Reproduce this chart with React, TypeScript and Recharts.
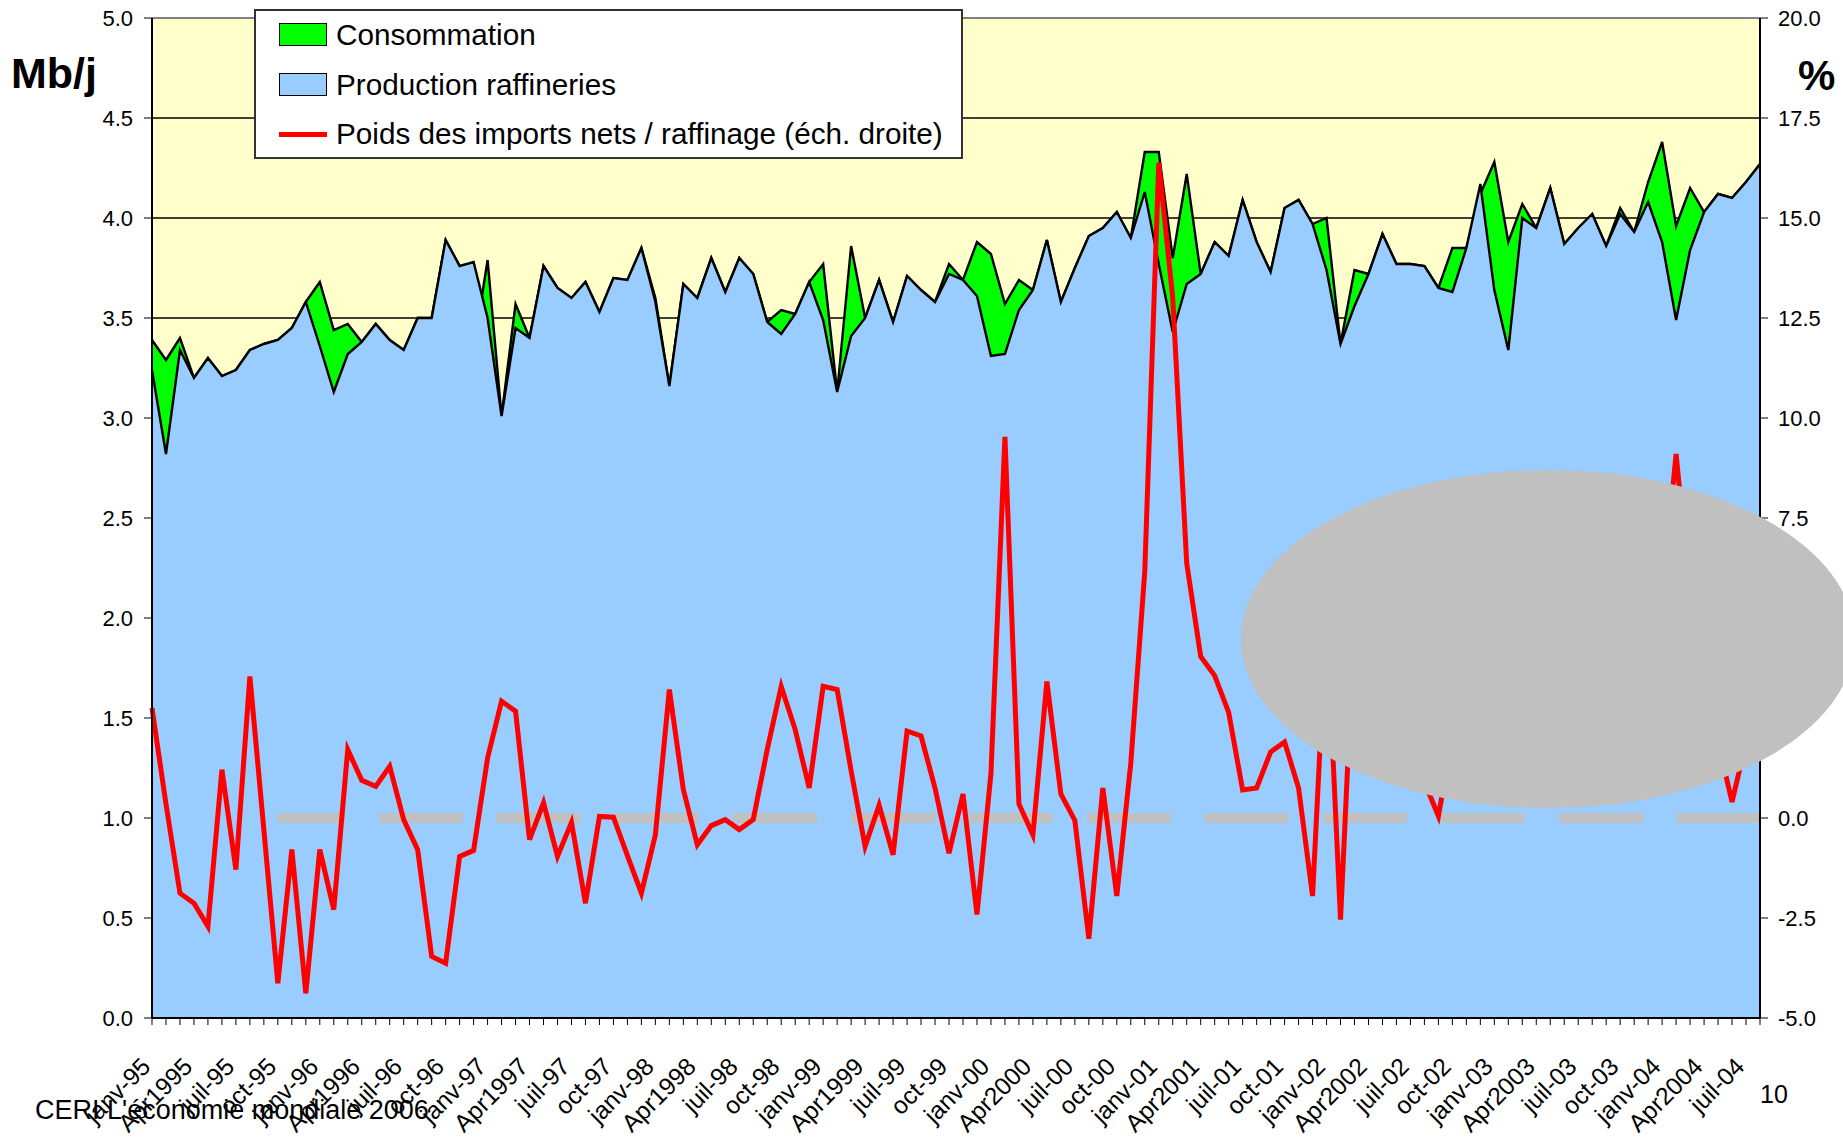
import React from 'react';
import { ComposedChart, Area, Line, XAxis, YAxis, CartesianGrid, ReferenceLine } from 'recharts';

const FONT = 'Arial, "Liberation Sans", Helvetica, sans-serif';

// one label every 3 months, janv-95 .. juil-04
const tickLabels = [
  'janv-95', 'Apr1995', 'juil-95', 'oct-95',
  'janv-96', 'Apr1996', 'juil-96', 'oct-96',
  'janv-97', 'Apr1997', 'juil-97', 'oct-97',
  'janv-98', 'Apr1998', 'juil-98', 'oct-98',
  'janv-99', 'Apr1999', 'juil-99', 'oct-99',
  'janv-00', 'Apr2000', 'juil-00', 'oct-00',
  'janv-01', 'Apr2001', 'juil-01', 'oct-01',
  'janv-02', 'Apr2002', 'juil-02', 'oct-02',
  'janv-03', 'Apr2003', 'juil-03', 'oct-03',
  'janv-04', 'Apr2004', 'juil-04',
];

// Mb/j, monthly, janv-95 .. août-04
const production = [
  3.24, 2.82, 3.34, 3.20, 3.30, 3.21, 3.24, 3.34, 3.37, 3.39, 3.45, 3.58,
  3.36, 3.13, 3.32, 3.38, 3.47, 3.39, 3.34, 3.50, 3.50, 3.89, 3.76, 3.78,
  3.50, 3.01, 3.45, 3.40, 3.76, 3.65, 3.60, 3.68, 3.53, 3.70, 3.69, 3.85,
  3.58, 3.16, 3.67, 3.60, 3.80, 3.63, 3.80, 3.72, 3.48, 3.42, 3.52, 3.68,
  3.49, 3.13, 3.41, 3.50, 3.69, 3.48, 3.71, 3.64, 3.58, 3.72, 3.69, 3.61,
  3.31, 3.32, 3.54, 3.64, 3.89, 3.58, 3.75, 3.91, 3.95, 4.03, 3.90, 4.13,
  3.77, 3.43, 3.67, 3.72, 3.88, 3.81, 4.09, 3.88, 3.73, 4.05, 4.09, 3.97,
  3.74, 3.37, 3.56, 3.72, 3.92, 3.77, 3.77, 3.76, 3.65, 3.63, 3.85, 4.17,
  3.64, 3.34, 4.00, 3.95, 4.15, 3.87, 3.95, 4.02, 3.86, 4.02, 3.93, 4.08,
  3.88, 3.49, 3.84, 4.03, 4.12, 4.10, 4.18, 4.27,
];

const consumption = [
  3.39, 3.29, 3.40, 3.20, 3.30, 3.21, 3.24, 3.34, 3.37, 3.39, 3.45, 3.58,
  3.68, 3.44, 3.47, 3.38, 3.47, 3.39, 3.34, 3.50, 3.50, 3.89, 3.76, 3.34,
  3.79, 3.01, 3.57, 3.40, 3.76, 3.65, 3.60, 3.68, 3.53, 3.70, 3.69, 3.85,
  3.60, 3.16, 3.67, 3.60, 3.80, 3.63, 3.80, 3.72, 3.48, 3.54, 3.52, 3.68,
  3.77, 3.13, 3.86, 3.50, 3.69, 3.48, 3.71, 3.64, 3.58, 3.77, 3.69, 3.88,
  3.82, 3.57, 3.69, 3.64, 3.89, 3.58, 3.75, 3.91, 3.95, 4.03, 3.90, 4.33,
  4.33, 3.80, 4.22, 3.72, 3.88, 3.81, 4.09, 3.88, 3.73, 4.05, 4.09, 3.97,
  4.00, 3.37, 3.74, 3.72, 3.92, 3.77, 3.77, 3.76, 3.65, 3.85, 3.85, 4.12,
  4.28, 3.88, 4.07, 3.95, 4.15, 3.87, 3.95, 4.02, 3.86, 4.05, 3.93, 4.18,
  4.38, 3.96, 4.15, 4.03, 4.12, 4.10, 4.18, 4.27,
];

// % (right scale); null where the grey blot hides the line
const importShare = [
  2.75, 0.35, -1.88, -2.13, -2.71, 1.21, -1.29, 3.54, -0.30, -4.13, -0.79, -4.38,
  -0.79, -2.29, 1.71, 0.94, 0.79, 1.29, -0.04, -0.79, -3.46, -3.63, -0.96, -0.81,
  1.50, 2.92, 2.67, -0.54, 0.38, -0.96, -0.11, -2.13, 0.04, 0.02, -0.94, -1.88,
  -0.42, 3.21, 0.71, -0.67, -0.19, -0.04, -0.29, -0.04, 1.71, 3.29, 2.21, 0.75,
  3.29, 3.21, 1.18, -0.71, 0.32, -0.92, 2.17, 2.05, 0.75, -0.88, 0.60, -2.41,
  1.11, 9.53, 0.35, -0.42, 3.41, 0.60, -0.06, -3.02, 0.75, -1.95, 1.37, 6.16,
  16.38, 13.0, 6.37, 4.04, 3.56, 2.64, 0.70, 0.75, 1.65, 1.90, 0.75, -1.95,
  5.0, -2.54, 5.0, null, null, null, null, 0.9, 0.05, 2.0, null, null,
  null, null, null, null, null, null, null, null, null, null, null, null,
  5.5, 9.1, 5.5, null, 1.9, 0.4, 1.9, null,
];

const leftTicks = [0, 0.5, 1, 1.5, 2, 2.5, 3, 3.5, 4, 4.5, 5];
const rightTicks = [-5, -2.5, 0, 2.5, 5, 7.5, 10, 12.5, 15, 17.5, 20];

const data = production.map((p, i) => ({
  idx: i,
  prod: p,
  cons: consumption[i],
  imports: importShare[i],
}));
const monthTicks = data.map((d) => d.idx);

const XTick = (props: any) => {
  const { x, y, payload } = props;
  const v = payload.value;
  if (v % 3 !== 0) return null;
  const ax = x;
  const ay = y + 41;
  return (
    <text
      x={ax}
      y={ay}
      transform={`rotate(-45 ${ax} ${ay})`}
      textAnchor="end"
      fontSize={24.5}
      fontFamily={FONT}
      fill="#000"
    >
      {tickLabels[v / 3]}
    </text>
  );
};

const abs = (left: number, top: number, extra: React.CSSProperties = {}): React.CSSProperties => ({
  position: 'absolute',
  left,
  top,
  whiteSpace: 'nowrap',
  lineHeight: 1,
  ...extra,
});

const legendRows = [
  { label: 'Consommation', kind: 'box', color: '#00FF00', baseline: 45 },
  { label: 'Production raffineries', kind: 'box', color: '#99CCFF', baseline: 95 },
  { label: 'Poids des imports nets / raffinage (éch. droite)', kind: 'line', color: '#FF0000', baseline: 144 },
];

const App: React.FC = () => {
  return (
    <div
      style={{
        position: 'absolute',
        left: 0,
        top: 0,
        width: 1843,
        height: 1137,
        overflow: 'hidden',
        background: '#fff',
        fontFamily: FONT,
        color: '#000',
      }}
    >
      <ComposedChart
        width={1843}
        height={1137}
        data={data}
        margin={{ top: 18, right: 13, bottom: 19, left: 92 }}
      >
        <CartesianGrid
          yAxisId="left"
          vertical={false}
          stroke="#000"
          strokeWidth={1.3}
          fill="#FFFFCC"
          fillOpacity={1}
        />
        <XAxis
          type="number"
          dataKey="idx"
          domain={[0, 115]}
          ticks={monthTicks}
          interval={0}
          height={100}
          tickSize={7}
          axisLine={{ stroke: '#000', strokeWidth: 2 }}
          tickLine={{ stroke: '#000', strokeWidth: 1 }}
          tick={<XTick />}
        />
        <YAxis
          yAxisId="left"
          domain={[0, 5]}
          ticks={leftTicks}
          width={60}
          tickSize={8}
          tickMargin={11}
          tickFormatter={(v: number) => v.toFixed(1)}
          axisLine={{ stroke: '#000', strokeWidth: 2 }}
          tickLine={{ stroke: '#000', strokeWidth: 1 }}
          tick={{ fontSize: 22, fill: '#000', fontFamily: FONT }}
        />
        <YAxis
          yAxisId="right"
          orientation="right"
          domain={[-5, 20]}
          ticks={rightTicks}
          width={70}
          tickSize={8}
          tickMargin={10}
          tickFormatter={(v: number) => v.toFixed(1)}
          axisLine={{ stroke: '#000', strokeWidth: 2 }}
          tickLine={{ stroke: '#000', strokeWidth: 1 }}
          tick={{ fontSize: 22, fill: '#000', fontFamily: FONT }}
        />
        <Area
          yAxisId="left"
          type="linear"
          dataKey="cons"
          stroke="#000"
          strokeWidth={2.4}
          fill="#00FF00"
          fillOpacity={1}
          dot={false}
          activeDot={false}
          isAnimationActive={false}
        />
        <Area
          yAxisId="left"
          type="linear"
          dataKey="prod"
          stroke="#000"
          strokeWidth={2.4}
          fill="#99CCFF"
          fillOpacity={1}
          dot={false}
          activeDot={false}
          isAnimationActive={false}
        />
        <ReferenceLine yAxisId="left" y={5} stroke="#808080" strokeWidth={2} />
        <ReferenceLine
          yAxisId="right"
          segment={[{ x: 9, y: 0 }, { x: 115, y: 0 }]}
          stroke="#C0C0C0"
          strokeWidth={10}
          strokeDasharray="84 34"
          strokeDashoffset={17}
        />
        <Line
          yAxisId="right"
          type="linear"
          dataKey="imports"
          stroke="#FF0000"
          strokeWidth={5}
          dot={false}
          activeDot={false}
          connectNulls={false}
          isAnimationActive={false}
        />
      </ComposedChart>

      {/* legend */}
      <div
        style={abs(254, 9, {
          width: 709,
          height: 150,
          boxSizing: 'border-box',
          background: '#fff',
          border: '2px solid #333',
        })}
      />
      {legendRows.map((r) => (
        <React.Fragment key={r.label}>
          {r.kind === 'box' ? (
            <div
              style={abs(279, r.baseline - 22, {
                width: 48,
                height: 23,
                boxSizing: 'border-box',
                background: r.color,
                border: '1.5px solid #000',
              })}
            />
          ) : (
            <div style={abs(279, r.baseline - 12, { width: 48, height: 4.5, background: r.color })} />
          )}
          <div style={abs(336, r.baseline - 25, { fontSize: 29.7 })}>{r.label}</div>
        </React.Fragment>
      ))}

      <div style={abs(11, 52, { fontSize: 43, fontWeight: 'bold' })}>Mb/j</div>
      <div style={abs(1798, 55, { fontSize: 42, fontWeight: 'bold' })}>%</div>

      {/* grey blot lying over the chart */}
      <div
        style={abs(1241, 470, {
          width: 614,
          height: 338,
          borderRadius: '50%',
          background: '#C0C0C0',
        })}
      />

      <div style={abs(35, 1097, { fontSize: 27 })}>CERI L'économie mondiale 2006</div>
      <div style={abs(1760, 1082, { fontSize: 25 })}>10</div>
    </div>
  );
};

export default App;
